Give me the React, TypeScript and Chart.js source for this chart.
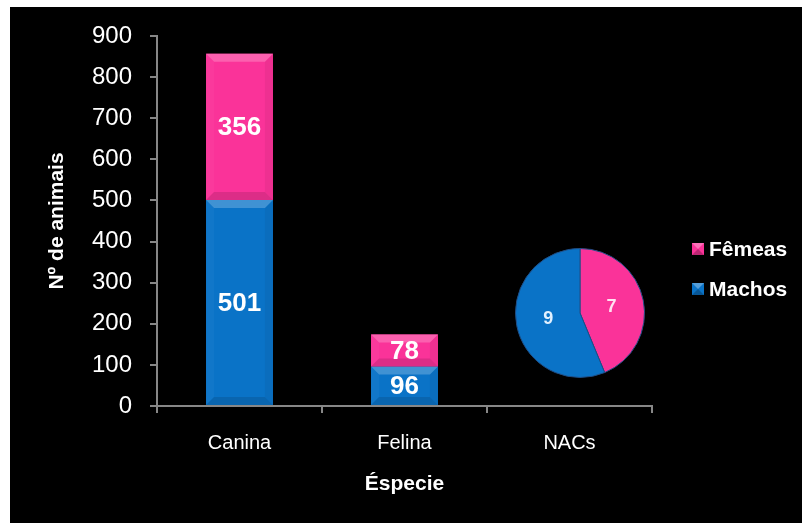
import React, { useEffect, useRef } from 'react';
import { Chart, registerables } from 'chart.js';

Chart.register(...registerables);

// ---- data ----
const categories = ['Canina', 'Felina', 'NACs'];
const machosValues = [501, 96, null];
const femeasValues = [356, 78, null];
const nacsLabels = ['Fêmeas', 'Machos'];
const nacsValues = [7, 9];
const yMin = 0;
const yMax = 900;
const yStep = 100;
const xTitle = 'Éspecie';
const yTitle = 'Nº de animais';

// ---- styles ----
const FONT = '"Liberation Sans", Arial, sans-serif';
const PINK = '#FA3399';
const BLUE = '#0A73C7';
const AXIS = '#878787';

function shade(hex: string, amt: number): string {
  const n = parseInt(hex.slice(1), 16);
  let r = (n >> 16) & 255, g = (n >> 8) & 255, b = n & 255;
  const f = (c: number) => Math.max(0, Math.min(255, Math.round(amt >= 0 ? c + (255 - c) * amt : c * (1 + amt))));
  r = f(r); g = f(g); b = f(b);
  return `rgb(${r},${g},${b})`;
}

const backgroundPlugin = {
  id: 'bgFrame',
  beforeDraw(chart: any) {
    const { ctx, width, height } = chart;
    ctx.save();
    ctx.fillStyle = '#ffffff';
    ctx.fillRect(0, 0, width, height);
    ctx.fillStyle = '#000000';
    ctx.fillRect(10, 7, width - 10, height - 7);
    ctx.restore();
  },
};

const bevelLabelPlugin = {
  id: 'bevelLabels',
  afterDatasetsDraw(chart: any) {
    const { ctx } = chart;
    chart.data.datasets.forEach((ds: any, di: number) => {
      const meta = chart.getDatasetMeta(di);
      meta.data.forEach((el: any, i: number) => {
        const v = ds.data[i];
        if (v === null || v === undefined) return;
        const { x, y, base, width } = el.getProps(['x', 'y', 'base', 'width'], true);
        const left = x - width / 2;
        const right = x + width / 2;
        const top = Math.min(y, base);
        const bottom = Math.max(y, base);
        const b = Math.min(8, (bottom - top) / 2);
        const col = ds.backgroundColor as string;
        ctx.save();
        // side bevels (subtle)
        ctx.fillStyle = shade(col, 0.03);
        ctx.beginPath();
        ctx.moveTo(left, top); ctx.lineTo(left + b, top + b); ctx.lineTo(left + b, bottom - b); ctx.lineTo(left, bottom); ctx.closePath(); ctx.fill();
        ctx.fillStyle = shade(col, -0.05);
        ctx.beginPath();
        ctx.moveTo(right, top); ctx.lineTo(right - b, top + b); ctx.lineTo(right - b, bottom - b); ctx.lineTo(right, bottom); ctx.closePath(); ctx.fill();
        // top bevel
        ctx.fillStyle = shade(col, 0.22);
        ctx.beginPath();
        ctx.moveTo(left, top); ctx.lineTo(right, top); ctx.lineTo(right - b, top + b); ctx.lineTo(left + b, top + b); ctx.closePath(); ctx.fill();
        // bottom bevel
        ctx.fillStyle = shade(col, -0.12);
        ctx.beginPath();
        ctx.moveTo(left, bottom); ctx.lineTo(right, bottom); ctx.lineTo(right - b, bottom - b); ctx.lineTo(left + b, bottom - b); ctx.closePath(); ctx.fill();
        // value label
        ctx.fillStyle = '#ffffff';
        ctx.font = `bold 26px ${FONT}`;
        ctx.textAlign = 'center';
        ctx.textBaseline = 'middle';
        ctx.fillText(String(v), x, (top + bottom) / 2 + 1);
        ctx.restore();
      });
    });
  },
};

const legendPlugin = {
  id: 'sideLegend',
  afterDraw(chart: any) {
    const { ctx, chartArea } = chart;
    const items = chart.data.datasets.slice().reverse();
    const x0 = chartArea.right + 40;
    ctx.save();
    items.forEach((ds: any, k: number) => {
      const cy = 249 + k * 40;
      const col = ds.backgroundColor as string;
      ctx.fillStyle = col;
      ctx.fillRect(x0, cy - 6, 12, 12);
      ctx.fillStyle = shade(col, 0.3);
      ctx.beginPath(); ctx.moveTo(x0, cy - 6); ctx.lineTo(x0 + 12, cy - 6); ctx.lineTo(x0 + 6, cy); ctx.closePath(); ctx.fill();
      ctx.fillStyle = shade(col, -0.25);
      ctx.beginPath(); ctx.moveTo(x0, cy + 6); ctx.lineTo(x0 + 12, cy + 6); ctx.lineTo(x0 + 6, cy); ctx.closePath(); ctx.fill();
      ctx.fillStyle = '#ffffff';
      ctx.font = `bold 21px ${FONT}`;
      ctx.textAlign = 'left';
      ctx.textBaseline = 'middle';
      ctx.fillText(ds.label, x0 + 17, cy + 1);
    });
    ctx.restore();
  },
};

const pieLabelPlugin = {
  id: 'pieLabels',
  afterDatasetsDraw(chart: any) {
    const { ctx } = chart;
    const ds = chart.data.datasets[0];
    const meta = chart.getDatasetMeta(0);
    ctx.save();
    ctx.font = `bold 18px ${FONT}`;
    ctx.textAlign = 'center';
    ctx.textBaseline = 'middle';
    meta.data.forEach((arc: any, i: number) => {
      const p = arc.getCenterPoint();
      ctx.fillStyle = i === 0 ? '#FFE2F1' : '#E2F1FF';
      ctx.fillText(String(ds.data[i]), p.x, p.y);
    });
    ctx.restore();
  },
};

export default function App() {
  const barRef = useRef<HTMLCanvasElement>(null);
  const pieRef = useRef<HTMLCanvasElement>(null);

  useEffect(() => {
    document.body.style.margin = '0';
    if (!barRef.current || !pieRef.current) return;

    const bar = new Chart(barRef.current, {
      type: 'bar',
      data: {
        labels: categories,
        datasets: [
          { label: 'Machos', data: machosValues as any, backgroundColor: BLUE, borderWidth: 0, categoryPercentage: 1, barPercentage: 0.405 },
          { label: 'Fêmeas', data: femeasValues as any, backgroundColor: PINK, borderWidth: 0, categoryPercentage: 1, barPercentage: 0.405 },
        ],
      },
      options: {
        responsive: false,
        animation: false,
        devicePixelRatio: 1,
        layout: { padding: { left: 0, top: 36, right: 150, bottom: 0 } },
        plugins: { legend: { display: false }, tooltip: { enabled: false } },
        scales: {
          x: {
            stacked: true,
            grid: { display: true, drawOnChartArea: false, drawTicks: true, tickLength: 7, color: AXIS, lineWidth: 2, offset: true },
            border: { display: true, color: AXIS, width: 2 },
            ticks: { color: '#ffffff', font: { family: FONT, size: 20 }, padding: 18 },
            title: { display: true, text: xTitle, color: '#ffffff', font: { family: FONT, size: 21, weight: 'bold' }, padding: { top: 0, bottom: 26 } },
            afterFit: (s: any) => { s.height = 117; },
          },
          y: {
            stacked: true,
            min: yMin,
            max: yMax,
            ticks: { stepSize: yStep, color: '#ffffff', font: { family: FONT, size: 24 }, padding: 18 },
            grid: { display: true, drawOnChartArea: false, drawTicks: true, tickLength: 7, color: AXIS, lineWidth: 2 },
            border: { display: true, color: AXIS, width: 2 },
            title: { display: true, text: yTitle, color: '#ffffff', font: { family: FONT, size: 21, weight: 'bold' }, padding: { top: 45, bottom: 0 } },
            afterFit: (s: any) => { s.width = 157; },
          },
        },
      } as any,
      plugins: [backgroundPlugin, bevelLabelPlugin, legendPlugin],
    });

    const pie = new Chart(pieRef.current, {
      type: 'pie',
      data: {
        labels: nacsLabels,
        datasets: [
          { data: nacsValues, backgroundColor: [PINK, BLUE], borderColor: '#1F4E86', borderWidth: 1 },
        ],
      },
      options: {
        responsive: false,
        animation: false,
        devicePixelRatio: 1,
        layout: { padding: 0 },
        plugins: { legend: { display: false }, tooltip: { enabled: false } },
      } as any,
      plugins: [pieLabelPlugin],
    });

    return () => {
      bar.destroy();
      pie.destroy();
    };
  }, []);

  return (
    <div style={{ position: 'relative', width: 802, height: 523, background: '#fff' }}>
      <canvas ref={barRef} width={802} height={523} style={{ position: 'absolute', left: 0, top: 0 }} />
      <canvas ref={pieRef} width={130} height={130} style={{ position: 'absolute', left: 515, top: 248 }} />
    </div>
  );
}
